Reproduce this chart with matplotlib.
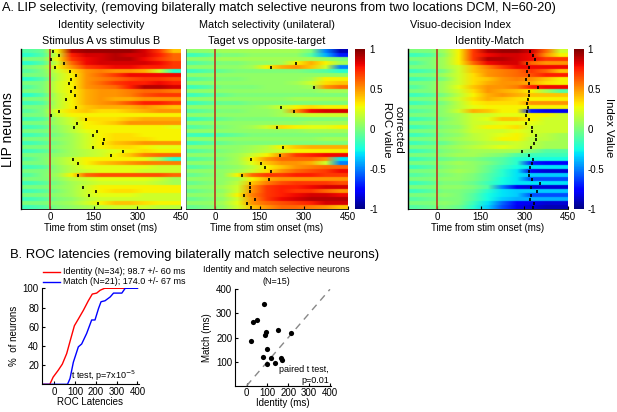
import numpy as np
import matplotlib
matplotlib.use("Agg")
import matplotlib.pyplot as plt

plt.rcParams['font.family'] = ['Liberation Sans', 'DejaVu Sans']
plt.rcParams['axes.unicode_minus'] = False

W, H = 617, 412

# ---------------- DATA ----------------
# time bin centres (ms) for heatmap columns, spanning -100..450
time_bins = [-75, -25, 25, 75, 125, 175, 225, 275, 325, 375, 425]

identity_roc = [
    [-0.1, -0.05, 0.3, 0.9, 0.95, 0.95, 0.95, 0.95, 0.85, 0.7, 0.4],
    [-0.2, -0.1, 0.2, 0.75, 0.85, 0.85, 0.9, 0.85, 0.85, 0.75, 0.6],
    [0.0, 0.0, 0.3, 0.7, 0.8, 0.85, 0.9, 0.9, 0.8, 0.7, 0.6],
    [-0.2, -0.1, 0.2, 0.6, 0.8, 0.85, 0.85, 0.85, 0.85, 0.8, 0.7],
    [0.0, 0.05, 0.3, 0.5, 0.7, 0.75, 0.8, 0.8, 0.75, 0.75, 0.7],
    [-0.1, 0.0, 0.2, 0.35, 0.5, 0.55, 0.5, 0.5, 0.45, 0.2, -0.2],
    [0.0, 0.0, 0.15, 0.3, 0.5, 0.6, 0.7, 0.8, 0.8, 0.8, 0.8],
    [-0.2, -0.1, 0.15, 0.3, 0.5, 0.55, 0.6, 0.65, 0.7, 0.7, 0.65],
    [0.0, 0.0, 0.2, 0.3, 0.5, 0.6, 0.7, 0.75, 0.75, 0.8, 0.75],
    [-0.1, 0.0, 0.2, 0.3, 0.5, 0.55, 0.6, 0.75, 0.9, 0.9, 0.85],
    [0.0, 0.0, 0.2, 0.3, 0.45, 0.5, 0.5, 0.55, 0.6, 0.6, 0.55],
    [-0.2, -0.1, 0.15, 0.3, 0.45, 0.5, 0.5, 0.55, 0.65, 0.7, 0.7],
    [0.0, 0.0, 0.15, 0.3, 0.45, 0.5, 0.45, 0.45, 0.5, 0.5, 0.5],
    [-0.15, -0.1, 0.15, 0.3, 0.45, 0.5, 0.55, 0.65, 0.75, 0.75, 0.7],
    [0.0, 0.0, 0.15, 0.3, 0.4, 0.45, 0.45, 0.45, 0.5, 0.45, 0.4],
    [-0.1, 0.0, 0.25, 0.35, 0.4, 0.35, 0.35, 0.4, 0.45, 0.5, 0.5],
    [0.0, 0.0, 0.2, 0.3, 0.3, 0.3, 0.3, 0.3, 0.3, 0.3, 0.3],
    [-0.15, -0.1, 0.1, 0.2, 0.35, 0.35, 0.35, 0.4, 0.45, 0.45, 0.45],
    [0.0, 0.0, 0.1, 0.2, 0.3, 0.35, 0.4, 0.5, 0.5, 0.5, 0.5],
    [-0.15, -0.1, 0.05, 0.15, 0.3, 0.3, 0.3, 0.3, 0.3, 0.3, 0.25],
    [0.0, 0.0, 0.05, 0.15, 0.25, 0.3, 0.3, 0.3, 0.3, 0.3, 0.3],
    [-0.15, -0.1, 0.0, 0.1, 0.2, 0.3, 0.35, 0.35, 0.3, 0.3, 0.3],
    [0.0, 0.0, 0.05, 0.1, 0.2, 0.3, 0.35, 0.35, 0.35, 0.3, 0.3],
    [-0.15, -0.1, 0.0, 0.1, 0.2, 0.3, 0.4, 0.45, 0.5, 0.5, 0.5],
    [0.0, 0.0, 0.05, 0.1, 0.2, 0.3, 0.35, 0.35, 0.3, 0.25, 0.25],
    [-0.15, -0.1, 0.0, 0.1, 0.15, 0.2, 0.25, 0.3, 0.35, 0.3, 0.3],
    [0.0, 0.0, 0.05, 0.1, 0.15, 0.2, 0.3, 0.4, 0.55, 0.6, 0.6],
    [-0.1, 0.0, 0.1, 0.2, 0.3, 0.3, 0.3, 0.3, 0.25, 0.1, -0.2],
    [0.0, 0.0, 0.1, 0.2, 0.3, 0.4, 0.45, 0.5, 0.55, 0.55, 0.55],
    [-0.15, -0.1, 0.05, 0.15, 0.25, 0.25, 0.25, 0.25, 0.25, 0.2, 0.2],
    [0.0, 0.0, 0.05, 0.15, 0.2, 0.25, 0.25, 0.25, 0.2, 0.2, 0.2],
    [-0.1, 0.0, 0.1, 0.3, 0.6, 0.65, 0.65, 0.65, 0.65, 0.65, 0.6],
    [0.0, 0.0, 0.05, 0.15, 0.2, 0.25, 0.25, 0.25, 0.25, 0.2, 0.1],
    [-0.15, -0.1, 0.0, 0.1, 0.15, 0.2, 0.2, 0.2, 0.2, 0.15, 0.1],
    [0.0, 0.0, 0.05, 0.1, 0.2, 0.3, 0.3, 0.3, 0.3, 0.3, 0.3],
    [-0.15, -0.1, 0.0, 0.1, 0.2, 0.3, 0.35, 0.35, 0.3, 0.3, 0.3],
    [0.0, 0.0, 0.05, 0.1, 0.2, 0.25, 0.25, 0.25, 0.2, 0.2, 0.2],
    [-0.15, -0.1, 0.0, 0.05, 0.15, 0.2, 0.2, 0.2, 0.2, 0.2, 0.2],
    [0.0, 0.0, 0.05, 0.1, 0.2, 0.3, 0.4, 0.4, 0.35, 0.3, 0.3],
    [-0.15, -0.1, 0.0, 0.05, 0.1, 0.15, 0.2, 0.2, 0.2, 0.15, 0.15],
]
identity_lat_rows = [0, 1, 2, 3, 4, 5, 6, 7, 8, 9, 10, 11, 12, 14, 15, 16, 17, 18, 19,
                     20, 21, 22, 23, 24, 25, 26, 27, 28, 31, 34, 35, 36, 38]
identity_lat_ms = [11, 31, 3, 49, 17, 69, 89, 71, 66, 86, 71, 86, 55, 88, 29, 3, 123, 92, 82,
                   161, 148, 184, 181, 149, 251, 211, 79, 95, 97, 113, 159, 134, 166]

match_roc = [
    [0.05, 0.05, 0.1, 0.1, 0.1, 0.1, 0.1, 0.1, 0.0, -0.5, -0.9],
    [-0.15, -0.1, 0.0, 0.0, 0.05, 0.05, 0.05, 0.05, -0.1, -0.4, -0.7],
    [0.05, 0.05, 0.1, 0.1, 0.1, 0.1, 0.1, 0.1, 0.1, 0.05, 0.0],
    [-0.1, -0.05, 0.0, 0.0, 0.05, 0.05, 0.1, 0.3, 0.45, 0.3, 0.1],
    [0.05, 0.05, 0.05, 0.05, 0.1, 0.3, 0.45, 0.5, 0.4, 0.2, -0.5],
    [-0.15, -0.1, -0.05, 0.0, 0.0, 0.0, 0.0, 0.0, -0.05, -0.1, -0.2],
    [0.05, 0.05, 0.05, 0.05, 0.05, 0.05, 0.05, 0.05, 0.05, 0.05, 0.05],
    [-0.1, -0.05, 0.0, 0.0, 0.05, 0.05, 0.05, 0.05, 0.1, 0.3, 0.3],
    [0.05, 0.05, 0.05, 0.05, 0.05, 0.05, 0.05, 0.1, 0.2, 0.35, 0.4],
    [-0.15, -0.1, 0.0, 0.0, 0.0, 0.05, 0.05, 0.05, 0.1, 0.5, 0.6],
    [0.05, 0.05, 0.05, 0.05, 0.05, 0.05, 0.05, 0.05, 0.05, 0.1, 0.1],
    [-0.15, -0.1, -0.05, 0.0, 0.0, 0.0, 0.0, 0.0, 0.0, 0.0, 0.0],
    [0.05, 0.05, 0.05, 0.05, 0.05, 0.05, 0.05, 0.1, 0.1, 0.1, 0.1],
    [-0.15, -0.1, -0.05, -0.05, 0.0, 0.0, 0.0, 0.0, 0.0, 0.0, 0.0],
    [0.05, 0.05, 0.05, 0.05, 0.05, 0.1, 0.2, 0.3, 0.35, 0.3, 0.3],
    [-0.1, -0.05, 0.0, 0.0, 0.05, 0.05, 0.1, 0.5, 0.8, 0.85, 0.85],
    [0.05, 0.05, 0.05, 0.05, 0.05, 0.05, 0.1, 0.15, 0.2, 0.2, 0.2],
    [-0.15, -0.1, -0.05, 0.0, 0.0, 0.0, 0.0, 0.0, 0.0, 0.0, 0.0],
    [0.05, 0.05, 0.05, 0.05, 0.05, 0.05, 0.05, 0.05, 0.1, 0.1, 0.1],
    [-0.1, -0.05, 0.0, 0.05, 0.1, 0.2, 0.35, 0.3, 0.25, 0.25, 0.3],
    [0.05, 0.05, 0.05, 0.05, 0.05, 0.05, 0.05, 0.05, 0.1, 0.1, 0.1],
    [-0.15, -0.15, -0.1, -0.05, 0.0, 0.0, 0.0, 0.0, 0.0, 0.0, 0.0],
    [0.05, 0.05, 0.05, 0.05, 0.05, 0.05, 0.05, 0.05, 0.05, 0.1, 0.1],
    [-0.15, -0.1, -0.05, 0.0, 0.0, 0.0, 0.0, 0.0, 0.0, 0.0, 0.0],
    [0.05, 0.05, 0.05, 0.05, 0.1, 0.15, 0.3, 0.4, 0.45, 0.45, 0.45],
    [-0.1, -0.05, 0.0, 0.05, 0.1, 0.15, 0.2, 0.3, 0.3, 0.3, 0.3],
    [0.05, 0.05, 0.05, 0.1, 0.2, 0.3, 0.5, 0.7, 0.75, 0.8, 0.8],
    [-0.1, -0.05, 0.0, 0.1, 0.3, 0.5, 0.6, 0.6, 0.6, 0.5, -0.3],
    [0.05, 0.05, 0.05, 0.1, 0.25, 0.4, 0.5, 0.5, 0.45, 0.2, -0.5],
    [-0.1, -0.05, 0.0, 0.05, 0.15, 0.3, 0.4, 0.5, 0.55, 0.6, 0.6],
    [0.05, 0.05, 0.05, 0.1, 0.2, 0.35, 0.5, 0.6, 0.65, 0.7, 0.8],
    [-0.05, 0.0, 0.05, 0.3, 0.6, 0.7, 0.7, 0.75, 0.75, 0.7, 0.7],
    [0.05, 0.05, 0.05, 0.1, 0.3, 0.45, 0.5, 0.5, 0.5, 0.5, 0.5],
    [-0.05, 0.0, 0.05, 0.15, 0.4, 0.55, 0.65, 0.7, 0.7, 0.7, 0.65],
    [0.05, 0.05, 0.1, 0.2, 0.5, 0.7, 0.75, 0.75, 0.8, 0.85, 0.85],
    [-0.05, 0.0, 0.05, 0.2, 0.5, 0.7, 0.75, 0.7, 0.7, 0.6, 0.5],
    [0.05, 0.05, 0.1, 0.3, 0.55, 0.7, 0.75, 0.8, 0.85, 0.85, 0.8],
    [-0.05, 0.0, 0.05, 0.2, 0.5, 0.7, 0.8, 0.85, 0.9, 0.9, 0.9],
    [0.05, 0.05, 0.1, 0.25, 0.5, 0.6, 0.65, 0.7, 0.75, 0.85, 0.85],
    [-0.05, 0.0, 0.05, 0.2, 0.4, 0.5, 0.6, 0.6, 0.55, 0.5, 0.4],
]
match_lat_rows = [3, 4, 9, 14, 15, 19, 24, 26, 27, 28, 29, 30, 31, 32, 33, 34, 35, 36, 37, 38, 39]
match_lat_ms = [275, 187, 336, 224, 266, 210, 230, 218, 122, 153, 167, 187, 90, 181, 116, 117,
                118, 97, 134, 108, 119]

index_vals = [
    [0.0, 0.0, 0.1, 0.3, 0.7, 0.9, 0.95, 0.95, 0.85, 0.6, 0.2],
    [-0.15, -0.1, 0.05, 0.3, 0.7, 0.8, 0.85, 0.85, 0.8, 0.5, 0.3],
    [0.0, 0.0, 0.1, 0.3, 0.7, 0.9, 0.9, 0.85, 0.8, 0.7, 0.7],
    [-0.1, 0.0, 0.1, 0.3, 0.6, 0.8, 0.85, 0.85, 0.6, 0.5, 0.5],
    [0.0, 0.0, 0.1, 0.2, 0.4, 0.55, 0.7, 0.8, 0.8, 0.8, 0.8],
    [-0.15, -0.1, 0.0, 0.2, 0.4, 0.5, 0.55, 0.6, 0.7, 0.6, 0.4],
    [0.0, 0.0, 0.1, 0.2, 0.35, 0.5, 0.55, 0.6, 0.65, 0.75, 0.75],
    [-0.15, -0.1, 0.0, 0.2, 0.35, 0.4, 0.5, 0.55, 0.5, 0.4, 0.3],
    [0.0, 0.0, 0.1, 0.2, 0.35, 0.45, 0.5, 0.5, 0.45, 0.35, 0.3],
    [-0.1, 0.0, 0.1, 0.25, 0.4, 0.5, 0.5, 0.55, 0.75, 0.8, 0.8],
    [0.0, 0.0, 0.1, 0.2, 0.35, 0.5, 0.45, 0.4, 0.3, 0.1, -0.1],
    [-0.15, -0.1, 0.0, 0.15, 0.3, 0.45, 0.5, 0.45, 0.4, 0.4, 0.4],
    [0.0, 0.0, 0.1, 0.2, 0.35, 0.45, 0.4, 0.35, 0.3, 0.3, 0.3],
    [-0.15, -0.1, 0.0, 0.15, 0.3, 0.35, 0.35, 0.35, 0.5, 0.5, 0.5],
    [0.0, 0.0, 0.05, 0.15, 0.25, 0.3, 0.3, 0.3, 0.3, 0.3, 0.3],
    [-0.1, -0.05, 0.05, 0.2, 0.45, 0.4, 0.3, 0.3, -0.7, -0.8, -0.8],
    [0.0, 0.0, 0.05, 0.1, 0.2, 0.2, 0.25, 0.25, 0.3, 0.3, 0.2],
    [-0.15, -0.1, 0.0, 0.1, 0.2, 0.25, 0.4, 0.4, 0.3, 0.2, 0.2],
    [0.0, 0.0, 0.05, 0.1, 0.2, 0.2, 0.25, 0.25, 0.25, 0.2, 0.2],
    [-0.15, -0.1, 0.0, 0.05, 0.2, 0.3, 0.3, 0.35, 0.2, 0.2, 0.2],
    [0.0, 0.0, 0.05, 0.1, 0.2, 0.2, 0.2, 0.25, 0.2, 0.2, 0.2],
    [-0.15, -0.1, 0.0, 0.05, 0.15, 0.2, 0.25, 0.3, 0.2, 0.15, 0.1],
    [0.0, 0.0, 0.05, 0.1, 0.15, 0.2, 0.3, 0.3, 0.15, 0.15, 0.1],
    [-0.15, -0.1, -0.05, 0.05, 0.1, 0.15, 0.15, 0.2, 0.15, 0.1, 0.1],
    [0.0, 0.0, 0.05, 0.1, 0.15, 0.2, 0.25, 0.2, 0.15, 0.1, 0.1],
    [-0.15, -0.1, 0.0, 0.05, 0.1, 0.1, 0.1, 0.1, 0.0, -0.1, -0.1],
    [0.0, 0.0, 0.05, 0.1, 0.1, 0.05, 0.0, -0.1, -0.15, -0.15, -0.15],
    [-0.15, -0.1, -0.05, 0.0, 0.0, -0.05, -0.1, -0.2, -0.25, -0.25, -0.25],
    [0.0, 0.0, 0.05, 0.1, 0.05, 0.0, -0.1, -0.2, -0.7, -0.75, -0.75],
    [-0.15, -0.1, 0.0, 0.05, 0.05, -0.05, -0.15, -0.25, -0.3, -0.3, -0.3],
    [0.0, 0.0, 0.05, 0.1, 0.05, -0.05, -0.2, -0.3, -0.8, -0.85, -0.85],
    [-0.1, -0.05, 0.0, 0.05, 0.0, -0.1, -0.2, -0.3, -0.35, -0.35, -0.35],
    [0.0, 0.0, 0.05, 0.05, 0.0, -0.1, -0.25, -0.3, -0.6, -0.6, -0.6],
    [-0.15, -0.1, 0.0, 0.0, -0.05, -0.15, -0.25, -0.3, -0.3, -0.3, -0.3],
    [0.0, 0.0, 0.05, 0.05, 0.0, -0.1, -0.5, -0.8, -0.85, -0.85, -0.85],
    [-0.15, -0.1, 0.0, 0.0, -0.05, -0.2, -0.3, -0.35, -0.35, -0.35, -0.35],
    [0.0, 0.0, 0.05, 0.0, -0.1, -0.25, -0.3, -0.35, -0.6, -0.6, -0.6],
    [-0.1, -0.05, 0.0, 0.0, -0.1, -0.25, -0.35, -0.4, -0.4, -0.4, -0.4],
    [0.0, 0.0, 0.05, 0.0, -0.15, -0.3, -0.55, -0.75, -0.8, -0.85, -0.85],
    [-0.1, -0.05, 0.0, -0.05, -0.2, -0.35, -0.6, -0.8, -0.85, -0.9, -0.9],
]
index_lat_rows = list(range(40))
index_lat_ms = [320, 331, 336, 310, 316, 309, 316, 307, 316, 346, 316, 316, 314, 309, 312, 309,
                307, 316, 305, 325, 325, 340, 339, 332, 323, 293, 316, 329, 325, 318, 316, 316,
                325, 353, 323, 344, 323, 321, 334, 331]

# Panel B: cumulative latency distributions
id_cdf_x = [-60, -21, -5, 19, 39, 60, 79, 97, 116, 140, 164, 183, 204, 221, 242, 400]
id_cdf_y = [0, 0, 7.5, 14.5, 21, 32, 47, 61, 68, 77, 87, 94, 95, 98, 100, 100]
match_cdf_x = [-60, 64, 76, 92, 116, 132, 156, 180, 196, 213, 225, 244, 269, 285, 325, 341, 400]
match_cdf_y = [0, 0, 6, 23, 39, 42, 53, 67, 67, 79, 86, 87, 91, 95, 95, 100, 100]

# Panel B: scatter of latencies (identity, match) in ms
scatter_identity = [85, 32, 51, 91, 87, 152, 214, 19, 96, 80, 117, 99, 136, 163, 170]
scatter_match = [338, 266, 274, 223, 212, 230, 217, 186, 152, 120, 115, 89, 95, 115, 107]

# ---------------- FIGURE ----------------
fig = plt.figure(figsize=(W / 100, H / 100), dpi=100)


def px_axes(x0, y0, x1, y1):
    return fig.add_axes([x0 / W, 1 - y1 / H, (x1 - x0) / W, (y1 - y0) / H])


TICK_FS = 7
LINE_COL = '#b8452a'


def heat(ax, vals, lat_rows, lat_ms):
    arr = np.repeat(np.array(vals), 8, axis=0)
    im = ax.imshow(arr, cmap='jet', vmin=-1, vmax=1, aspect='auto',
                   extent=(-100, 450, 40, 0), interpolation='bilinear')
    ax.axvline(0, color=LINE_COL, lw=1.3)
    r = np.array(lat_rows)
    ax.vlines(lat_ms, r + 0.05, r + 0.95, color='k', lw=1.2)
    ax.set_xlim(-100, 450)
    ax.set_ylim(40, 0)
    ax.set_xticks([0, 150, 300, 450])
    ax.set_yticks([])
    ax.tick_params(axis='x', direction='in', length=2, labelsize=TICK_FS, pad=2)
    for s in ['top', 'right']:
        ax.spines[s].set_visible(False)
    ax.spines['left'].set_linewidth(1.0)
    ax.spines['bottom'].set_linewidth(0.6)
    ax.set_xlabel('Time from stim onset (ms)', fontsize=7, labelpad=1)
    return im


ax1 = px_axes(21, 49.3, 181, 209.3)
im1 = heat(ax1, identity_roc, identity_lat_rows, identity_lat_ms)
ax1.set_ylabel('LIP neurons', fontsize=10, labelpad=4)

ax2 = px_axes(186, 49.3, 348, 209.3)
im2 = heat(ax2, match_roc, match_lat_rows, match_lat_ms)
ax2.spines['left'].set_linewidth(0.5)
ax2.spines['left'].set_color('#555555')

ax3 = px_axes(408, 49.3, 568, 209.3)
im3 = heat(ax3, index_vals, index_lat_rows, index_lat_ms)

cax1 = px_axes(355, 49.3, 365.5, 209.3)
cb1 = fig.colorbar(im2, cax=cax1, ticks=[-1, -0.5, 0, 0.5, 1])
cax3 = px_axes(574, 49.3, 583.5, 209.3)
cb3 = fig.colorbar(im3, cax=cax3, ticks=[-1, -0.5, 0, 0.5, 1])
for cb in (cb1, cb3):
    cb.outline.set_visible(False)
    cb.ax.set_yticklabels(['-1', '-0.5', '0', '0.5', '1'])
    cb.ax.tick_params(labelsize=TICK_FS, length=0, pad=3)

fig.text(393 / W, 1 - 130 / H, 'corrected\nROC value', rotation=270, fontsize=8.2,
         ha='center', va='center', multialignment='center', linespacing=1.2)
fig.text(609 / W, 1 - 128 / H, 'Index Value', rotation=270, fontsize=8.2,
         ha='center', va='center')

# titles panel A
fig.text(2 / W, 1 - 8 / H,
         'A. LIP selectivity, (removing bilaterally match selective neurons from two locations DCM, N=60-20)',
         fontsize=9.2, ha='left', va='center')
fig.text(101 / W, 1 - 25 / H, 'Identity selectivity', fontsize=7.8, ha='center', va='center')
fig.text(101 / W, 1 - 41 / H, 'Stimulus A vs stimulus B', fontsize=7.8, ha='center', va='center')
fig.text(267 / W, 1 - 25 / H, 'Match selectivity (unilateral)', fontsize=7.8, ha='center', va='center')
fig.text(267 / W, 1 - 41 / H, 'Taget vs opposite-target', fontsize=7.8, ha='center', va='center')
fig.text(410 / W, 1 - 25 / H, 'Visuo-decision Index', fontsize=7.8, ha='left', va='center')
fig.text(490 / W, 1 - 41 / H, 'Identity-Match', fontsize=7.8, ha='center', va='center')

# ---------------- Panel B ----------------
fig.text(10 / W, 1 - 255 / H, 'B. ROC latencies (removing bilaterally match selective neurons)',
         fontsize=9.4, ha='left', va='center')

axc = px_axes(41.7, 288.3, 138.5, 384.3)
axc.plot(id_cdf_x, id_cdf_y, color='red', lw=1.0)
axc.plot(match_cdf_x, match_cdf_y, color='blue', lw=1.0)
axc.set_xlim(-60, 405)
axc.set_ylim(0, 100)
axc.set_xticks([0, 100, 200, 300, 400])
axc.set_yticks([20, 40, 60, 80, 100])
for s in ['top', 'right']:
    axc.spines[s].set_visible(False)
axc.tick_params(direction='in', length=2, labelsize=TICK_FS, pad=2)
axc.set_xlabel('ROC Latencies', fontsize=7, labelpad=0)
axc.set_ylabel('%  of neurons', fontsize=7, labelpad=3)
axc.text(395, 1.5, 't test, p=7x10$^{-5}$', fontsize=6.5, ha='right', va='bottom')

# legend (manual, above axes)
fig.lines.append(plt.Line2D([43 / W, 60 / W], [1 - 272 / H, 1 - 272 / H], color='red', lw=1.0,
                            transform=fig.transFigure))
fig.lines.append(plt.Line2D([43 / W, 60 / W], [1 - 282 / H, 1 - 282 / H], color='blue', lw=1.0,
                            transform=fig.transFigure))
fig.text(63 / W, 1 - 272 / H, 'Identity (N=34); 98.7 +/- 60 ms', fontsize=6.5, ha='left', va='center')
fig.text(63 / W, 1 - 282 / H, 'Match (N=21); 174.0 +/- 67 ms', fontsize=6.5, ha='left', va='center')

axs = px_axes(235, 289.3, 331, 385.7)
axs.plot([0, 400], [0, 400], color='#888888', lw=1.0, ls=(0, (5, 4)))
axs.scatter(scatter_identity, scatter_match, s=14, color='k', linewidths=0, zorder=3)
axs.set_xlim(-56, 405)
axs.set_ylim(0, 400)
axs.set_xticks([0, 100, 200, 300, 400])
axs.set_yticks([100, 200, 300, 400])
for s in ['top', 'right']:
    axs.spines[s].set_visible(False)
axs.tick_params(direction='in', length=2, labelsize=TICK_FS, pad=2)
axs.set_xlabel('Identity (ms)', fontsize=7, labelpad=0)
axs.set_ylabel('Match (ms)', fontsize=7, labelpad=3)
axs.text(395, 4, 'paired t test,\np=0.01', fontsize=6.5, ha='right', va='bottom',
         multialignment='right', linespacing=1.3)
fig.text(276 / W, 1 - 275.5 / H, 'Identity and match selective neurons\n(N=15)', fontsize=6.5,
         ha='center', va='center', multialignment='center', linespacing=1.4)

fig.savefig('out.png', dpi=100)
